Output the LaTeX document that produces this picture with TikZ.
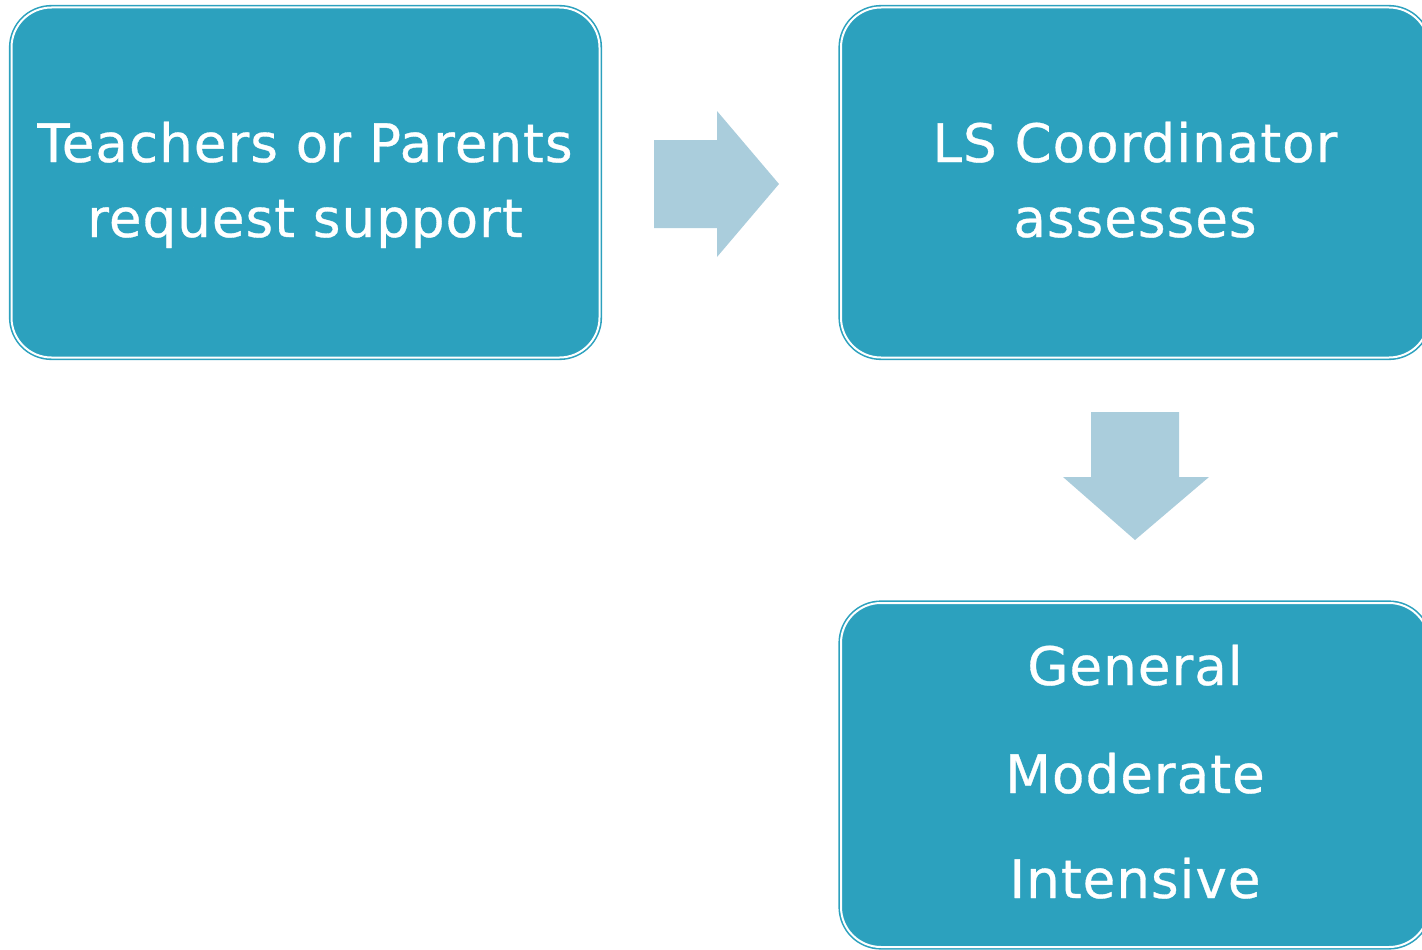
\documentclass[tikz,border=0pt]{standalone}
\usepackage{fontspec}
\setmainfont{DejaVu Sans}[LetterSpace=2, FakeBold=0.6]
\definecolor{boxteal}{HTML}{2CA1BE}
\definecolor{arrowblue}{HTML}{AACDDC}
\begin{document}
\begin{tikzpicture}[x=1pt,y=-1pt,
  box/.style={draw=boxteal, line width=1.6pt, double=white, double distance=2pt,
    fill=boxteal, rounded corners=40pt, inner sep=0pt},
  txt/.style={text=white, font=\fontsize{53}{60}\selectfont, anchor=base, inner sep=0pt},
  blockarrow/.style={fill=arrowblue, draw=none}]
\useasboundingbox (0,0) rectangle (1422,950);
\node[box, minimum width=588pt, minimum height=350pt] (b1) at (305.5,182.5) {};
\node[box, minimum width=588pt, minimum height=350pt] (b2) at (1135,182.5) {};
\node[box, minimum width=588pt, minimum height=344pt] (b3) at (1135,775) {};
\node[txt] (t1a) at (305,162) {Teachers or Parents};
\node[txt] (t1b) at (305,237) {request support};
\node[txt] (t2a) at (1135,162) {LS Coordinator};
\node[txt] (t2b) at (1135,237) {assesses};
\node[txt] (t3a) at (1135,685) {General};
\node[txt] (t3b) at (1135,793) {Moderate};
\node[txt] (t3c) at (1135,898) {Intensive};
\fill[blockarrow] (654,140) -- (717,140) -- (717,111) -- (779,184) -- (717,257) -- (717,228) -- (654,228) -- cycle;
\fill[blockarrow] (1091,412) -- (1179,412) -- (1179,477) -- (1209,477) -- (1135,540) -- (1063,477) -- (1091,477) -- cycle;
\end{tikzpicture}
\end{document}
